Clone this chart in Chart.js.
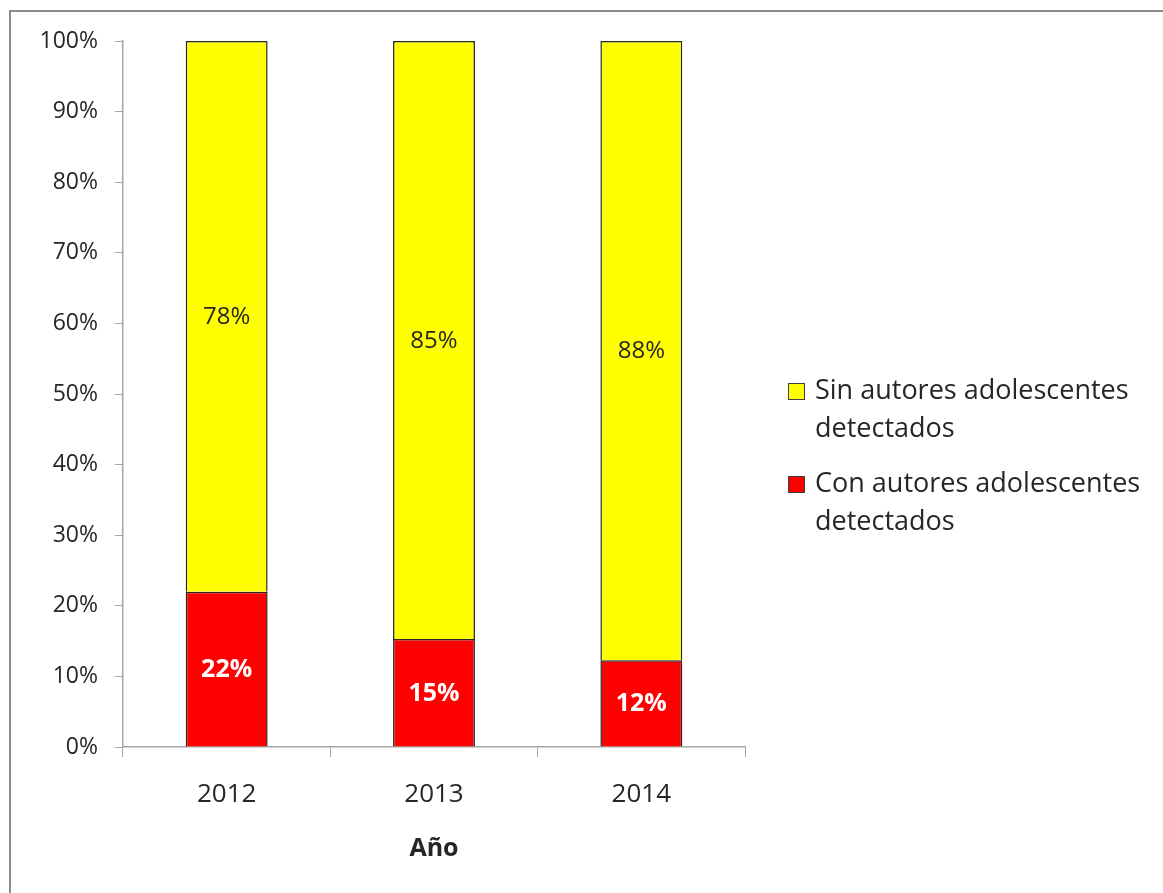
<!DOCTYPE html>
<html>
<head>
<meta charset="utf-8">
<script src="https://cdn.jsdelivr.net/npm/chart.js@4.4.1/dist/chart.umd.min.js"></script>
<style>
  html, body { margin: 0; padding: 0; background: #fff; overflow: hidden; }
  #frame {
    position: absolute; left: 9px; top: 10px; right: -5px; bottom: -5px;
    border-left: 2px solid #8c8c8c; border-top: 2px solid #8c8c8c;
  }
  #chart { position: absolute; left: 0; top: 0; }
</style>
</head>
<body>
<div id="frame"></div>
<canvas id="chart" width="1163" height="893"></canvas>
<script>
// datos
const years = ["2012", "2013", "2014"];
const conAutores = [22, 15.3, 12.3];
const sinAutores = [78, 84.7, 87.7];
const labelCon = ["Con autores adolescentes", "detectados"];
const labelSin = ["Sin autores adolescentes", "detectados"];
const yTicks = [0, 10, 20, 30, 40, 50, 60, 70, 80, 90, 100];

const FONT = "'Open Sans', Lato, sans-serif";
const TEXT = "#262626";
const AXIS = "#a6a6a6";

// etiquetas dentro de las barras
const barLabels = {
  id: "barLabels",
  afterDatasetsDraw(chart) {
    const ctx = chart.ctx;
    ctx.save();
    ctx.textAlign = "center";
    ctx.textBaseline = "middle";
    chart.data.datasets.forEach((ds, i) => {
      const meta = chart.getDatasetMeta(i);
      meta.data.forEach((bar, j) => {
        const v = ds.data[j];
        ctx.fillStyle = ds.labelColor;
        ctx.font = ds.labelFont;
        ctx.fillText(Math.round(v) + "%", bar.x, (bar.y + bar.base) / 2 + 1);
      });
    });
    ctx.restore();
  }
};

// leyenda a la derecha, con texto en dos lineas
const sideLegend = {
  id: "sideLegend",
  afterDraw(chart) {
    const ctx = chart.ctx;
    const area = chart.chartArea;
    const x0 = area.right + 43;
    let y = 391;
    const lineH = 38.5;
    ctx.save();
    ctx.font = "27px " + FONT;
    ctx.textBaseline = "middle";
    ctx.textAlign = "left";
    const items = chart.data.datasets.slice().reverse();
    items.forEach(ds => {
      ctx.fillStyle = ds.backgroundColor;
      ctx.fillRect(x0, y - 8, 17, 17);
      ctx.strokeStyle = "#404040";
      ctx.lineWidth = 1;
      ctx.strokeRect(x0 + 0.5, y - 7.5, 16, 16);
      ctx.fillStyle = TEXT;
      ds.label.forEach((line, k) => {
        ctx.fillText(line, x0 + 27, y + k * lineH);
      });
      y += ds.label.length * lineH + 16;
    });
    ctx.restore();
  }
};

new Chart(document.getElementById("chart"), {
  type: "bar",
  data: {
    labels: years,
    datasets: [
      {
        label: labelCon,
        data: conAutores,
        backgroundColor: "#ff0000",
        borderColor: "#262626",
        borderWidth: 1.5,
        labelColor: "#ffffff",
        labelFont: "bold 25px " + FONT
      },
      {
        label: labelSin,
        data: sinAutores,
        backgroundColor: "#ffff00",
        borderColor: "#262626",
        borderWidth: 1.5,
        labelColor: TEXT,
        labelFont: "24px " + FONT
      }
    ]
  },
  options: {
    responsive: false,
    animation: false,
    devicePixelRatio: 1,
    layout: { padding: { top: 41, right: 418, bottom: 0, left: 0 } },
    datasets: { bar: { categoryPercentage: 1, barPercentage: 0.395 } },
    plugins: {
      legend: { display: false },
      tooltip: { enabled: false }
    },
    scales: {
      x: {
        stacked: true,
        afterFit: s => { s.height = 146; },
        grid: { display: true, offset: true, drawOnChartArea: false, tickLength: 10, color: AXIS },
        border: { color: AXIS, width: 1.5 },
        ticks: { color: TEXT, font: { family: FONT, size: 26 }, padding: 22 },
        title: {
          display: true,
          text: "Año",
          color: TEXT,
          font: { family: FONT, size: 25, weight: "bold" },
          padding: { top: 0, bottom: 29 }
        }
      },
      y: {
        stacked: true,
        min: 0,
        max: 100,
        afterFit: s => { s.width = 123; },
        afterBuildTicks: s => { s.ticks = yTicks.map(v => ({ value: v })); },
        grid: { display: true, drawOnChartArea: false, tickLength: 8, color: AXIS },
        border: { color: AXIS, width: 1.5 },
        ticks: {
          color: TEXT,
          font: { family: FONT, size: 23 },
          padding: 17,
          callback: v => v + "%"
        }
      }
    }
  },
  plugins: [barLabels, sideLegend]
});
</script>
</body>
</html>
